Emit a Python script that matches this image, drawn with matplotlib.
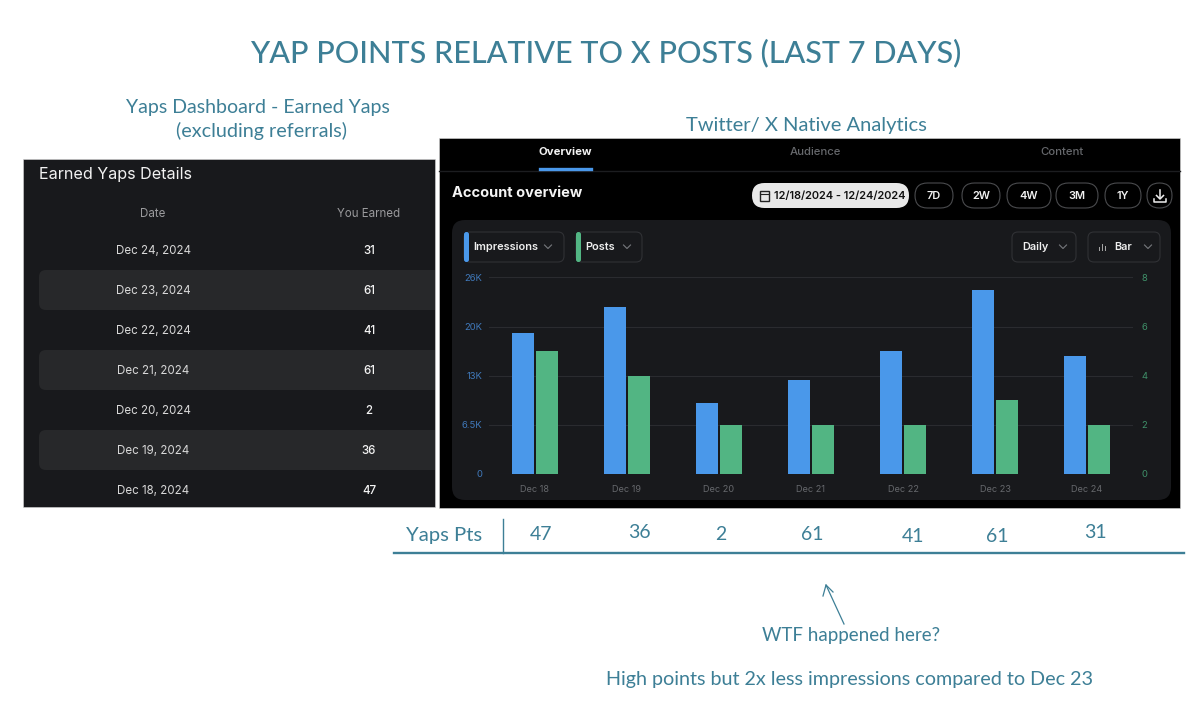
import matplotlib
matplotlib.use('Agg')
import matplotlib.pyplot as plt
from matplotlib.patches import FancyBboxPatch, Rectangle

W, H = 1200, 712
TEAL = '#3d7f96'
BLUE = '#4a98ea'
GREEN = '#52b583'
CARD = '#18191c'
HAND = 'Lato'

# chart data
days = ['Dec 18', 'Dec 19', 'Dec 20', 'Dec 21', 'Dec 22', 'Dec 23', 'Dec 24']
impressions = [18.7, 22.1, 9.3, 12.4, 16.2, 24.3, 15.6]
posts = [5, 4, 2, 2, 2, 3, 2]
left_ticks = [0, 6.5, 13, 19.5, 26]
left_labels = ['0', '6.5K', '13K', '20K', '26K']
right_ticks = [0, 2, 4, 6, 8]

# table data
table_dates = ['Dec 24, 2024', 'Dec 23, 2024', 'Dec 22, 2024', 'Dec 21, 2024',
               'Dec 20, 2024', 'Dec 19, 2024', 'Dec 18, 2024']
table_earned = [31, 61, 41, 61, 2, 36, 47]

# hand written row under the chart
yaps_pts = [47, 36, 2, 61, 41, 61, 31]
yaps_x = [541, 639, 721, 812, 913, 997, 1095]
yaps_y = [533, 532, 533, 534, 535, 535, 531]
range_buttons = ['7D', '2W', '4W', '3M', '1Y']
button_x = [934, 981, 1029, 1077, 1123]
button_w = [38, 38, 44, 42, 36]

plt.rcParams['font.family'] = ['Inter', 'DejaVu Sans']
fig = plt.figure(figsize=(W / 100, H / 100), dpi=100, facecolor='white')

# whole figure axes, in pixels of the reference
bg = fig.add_axes([0, 0, 1, 1])
bg.set_xlim(0, W)
bg.set_ylim(H, 0)
bg.axis('off')


def rrect(x0, y0, x1, y1, r, fc, ec='none', lw=0, z=1):
    p = FancyBboxPatch((x0 + r, y0 + r), x1 - x0 - 2 * r, y1 - y0 - 2 * r,
                       boxstyle='round,pad=%s,rounding_size=%s' % (r, r),
                       fc=fc, ec=ec, lw=lw, zorder=z)
    bg.add_patch(p)
    return p


def txt(x, y, s, size, color='white', ha='center', weight='normal', family=None, z=5):
    bg.text(x, y + 1, s, fontsize=size, color=color, ha=ha, va='center',
            fontweight=weight, family=family, zorder=z)


# left panel
left_panel = Rectangle((23, 159), 412, 348, fc=CARD, ec='#d8d8d8', lw=0.4, zorder=1)
bg.add_patch(left_panel)
txt(39, 174, 'Earned Yaps Details', 11.6, '#f2f2f2', ha='left')
txt(153, 213, 'Date', 8.3, '#9a9a9c')
txt(369, 213, 'You Earned', 8.3, '#9a9a9c')
for i in range(len(table_dates)):
    y = 250 + 40 * i
    if i % 2 == 1:
        stripe = rrect(39, y - 20, 445, y + 20, 7, '#27282a', z=2)
        stripe.set_clip_path(left_panel)
    txt(153, y, table_dates[i], 8.3, '#d8d8d8')
    txt(369, y, str(table_earned[i]), 8.3, '#f4f4f4', weight='medium')

# right panel
bg.add_patch(Rectangle((439, 138), 741, 370, fc='black', ec='#d8d8d8', lw=0.4, zorder=3))
bg.plot([439, 1180], [170.5, 170.5], color='#1c1d20', lw=1, zorder=4)
bg.plot([540, 591], [168.5, 168.5], color=BLUE, lw=2.4, zorder=5)
txt(565, 151, 'Overview', 8.2, '#f2f2f2', weight='bold')
txt(815, 151, 'Audience', 8.2, '#66686c', weight='medium')
txt(1062, 151, 'Content', 8.2, '#66686c', weight='medium')
txt(452, 192, 'Account overview', 10.5, '#f4f4f4', ha='left', weight='bold')

rrect(752, 183, 909, 208, 12.5, '#e8e8e8', z=4)
txt(840, 195, '12/18/2024 - 12/24/2024', 7.9, '#111111', weight='semibold')
bg.add_patch(Rectangle((760, 191), 9, 9.5, fc='none', ec='#222222', lw=1, zorder=5))
bg.plot([760, 769], [194, 194], color='#222222', lw=0.8, zorder=5)
for bx, bw, label in zip(button_x, button_w, range_buttons):
    rrect(bx - bw / 2, 183, bx + bw / 2, 208, 12.5, 'black', '#4a4b4e', 0.8, z=4)
    txt(bx, 195, label, 7.9, '#f2f2f2', weight='semibold')
rrect(1147, 183, 1172, 208, 12.5, 'black', '#4a4b4e', 0.8, z=4)
bg.plot([1160, 1160], [190, 198], color='#eeeeee', lw=1.1, zorder=5)
bg.plot([1156.5, 1160, 1163.5], [195.5, 199, 195.5], color='#eeeeee', lw=1.1, zorder=5)
bg.plot([1154, 1154, 1166, 1166], [199, 202, 202, 199], color='#eeeeee', lw=1.1, zorder=5)

# chart card
rrect(452, 220, 1171, 500, 13, CARD, z=4)


def pill(x0, x1, label, color=None, tx=None, arrow=None):
    rrect(x0, 232, x1, 262, 6, CARD, '#303135', 0.8, z=5)
    if color:
        rrect(x0, 232, x0 + 5, 262, 2.4, color, z=6)
    txt(tx, 246, label, 7.9, '#eeeeee', ha='left', weight='semibold', z=6)
    bg.plot([arrow - 3.5, arrow, arrow + 3.5], [245, 248.5, 245], color='#77797d', lw=0.8, zorder=6)


pill(464, 564, 'Impressions', BLUE, 473, 548)
pill(576, 642, 'Posts', GREEN, 585, 627)
pill(1012, 1076, 'Daily', None, 1022, 1063)
pill(1088, 1160, 'Bar', None, 1114, 1148)
for dx, dh in zip([1093, 1096, 1099], [3, 6, 4]):
    bg.plot([dx + 6, dx + 6], [250, 250 - dh], color='#aaaaaa', lw=0.7, zorder=6)

# actual bar chart
ax = fig.add_axes([489 / W, 1 - 473.5 / H, 644 / W, 196 / H])
ax.patch.set_alpha(0)
ax.set_zorder(3)
x = list(range(len(days)))
ax.set_xlim((489 - 535) / 92, (1133 - 535) / 92)
ax.set_ylim(0, 26)
ax.bar([i - 0.13 for i in x], impressions, width=0.24, color=BLUE, zorder=3)
ax.set_yticks(left_ticks)
ax.set_yticklabels(left_labels, fontsize=6.8, color='#4079bb')
ax.set_xticks(x)
ax.set_xticklabels(days, fontsize=6.6, color='#66686c')
ax.tick_params(length=0, pad=5)
ax.tick_params(axis='x', pad=8)
ax.grid(axis='y', color='#2a2b2f', lw=0.8, zorder=0)
for s in ax.spines.values():
    s.set_visible(False)

ax2 = ax.twinx()
ax2.set_ylim(0, 8)
ax2.bar([i + 0.13 for i in x], posts, width=0.24, color=GREEN, zorder=3)
ax2.set_yticks(right_ticks)
ax2.set_yticklabels([str(t) for t in right_ticks], fontsize=6.8, color='#3f9069')
ax2.tick_params(length=0, pad=6)
for s in ax2.spines.values():
    s.set_visible(False)

# hand written notes
txt(606, 52, 'YAP POINTS RELATIVE TO X POSTS (LAST 7 DAYS)', 22, TEAL, family=HAND, weight='medium')
txt(258, 107, 'Yaps Dashboard - Earned Yaps', 14, TEAL, family=HAND)
txt(262, 130, '(excluding referrals)', 14.2, TEAL, family=HAND)
txt(806, 124, 'Twitter/ X Native Analytics', 14.5, TEAL, family=HAND)
txt(444, 535, 'Yaps Pts', 14.6, TEAL, family=HAND)
for px, py, v in zip(yaps_x, yaps_y, yaps_pts):
    txt(px, py, str(v), 14, TEAL, family=HAND)
bg.plot([394, 1184], [553, 553], color=TEAL, lw=1.7, zorder=5)
bg.plot([503, 503], [519, 553], color=TEAL, lw=1, zorder=5)
bg.plot([844, 826], [624, 585], color=TEAL, lw=0.9, zorder=5)
bg.plot([823, 826, 833], [596, 585, 592], color=TEAL, lw=0.9, zorder=5)
txt(851, 635, 'WTF happened here?', 13.5, TEAL, family=HAND)
txt(850, 679, 'High points but 2x less impressions compared to Dec 23', 14.2, TEAL, family=HAND)

fig.savefig('out.png', dpi=100)
